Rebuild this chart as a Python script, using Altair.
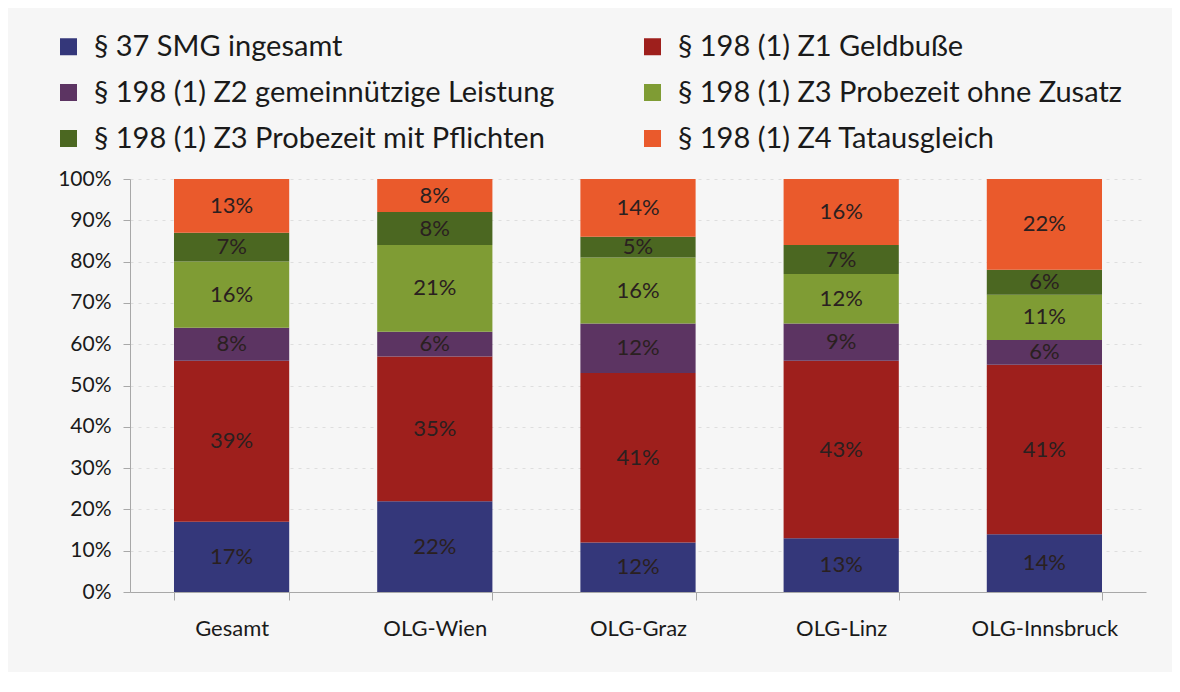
import altair as alt
import pandas as pd

categories = ["Gesamt", "OLG-Wien", "OLG-Graz", "OLG-Linz", "OLG-Innsbruck"]
series = [
    "§ 37 SMG ingesamt",
    "§ 198 (1) Z1 Geldbuße",
    "§ 198 (1) Z2 gemeinnützige Leistung",
    "§ 198 (1) Z3 Probezeit ohne Zusatz",
    "§ 198 (1) Z3 Probezeit mit Pflichten",
    "§ 198 (1) Z4 Tatausgleich",
]
colors = ["#34377a", "#9e1f1c", "#5c3462", "#7f9c34", "#4b6721", "#ea5a2c"]

smg = [17, 22, 12, 13, 14]
z1 = [39, 35, 41, 43, 41]
z2 = [8, 6, 12, 9, 6]
z3_ohne = [16, 21, 16, 12, 11]
z3_mit = [7, 8, 5, 7, 6]
z4 = [13, 8, 14, 16, 22]

values = [smg, z1, z2, z3_ohne, z3_mit, z4]
rows = []
for si, (s, vals) in enumerate(zip(series, values)):
    for c, v in zip(categories, vals):
        rows.append({"cat": c, "series": s, "order": si, "value": v})
df = pd.DataFrame(rows)

FONT = "Lato"

base = alt.Chart(df).transform_stack(
    stack="value", groupby=["cat"], as_=["y0", "y1"],
    sort=[alt.SortField("order", "ascending")], offset="normalize"
).transform_calculate(mid="(datum.y0 + datum.y1) / 2")

xenc = alt.X("cat:N", sort=categories, title=None,
             scale=alt.Scale(paddingInner=0.433, paddingOuter=0.2165),
             axis=alt.Axis(labelAngle=0, labelFont=FONT, labelFontSize=22,
                           labelColor="#1a1a1a", labelPadding=18,
                           tickBand="extent", tickSize=8, tickColor="#a8a8a8",
                           domainColor="#a8a8a8", grid=False))

bars = base.mark_bar().encode(
    x=xenc,
    y=alt.Y("y0:Q", title=None,
            scale=alt.Scale(domain=[0, 1], nice=False),
            axis=alt.Axis(format="%", values=[i / 10 for i in range(11)],
                          labelFont=FONT, labelFontSize=21, labelColor="#1a1a1a",
                          labelPadding=12, tickSize=7, tickColor="#a8a8a8",
                          domainColor="#a8a8a8", gridColor="#dedede",
                          gridDash=[3, 5])),
    y2="y1:Q",
    color=alt.Color("series:N", sort=series,
                    scale=alt.Scale(domain=series, range=colors),
                    legend=alt.Legend(title=None, orient="none", legendX=-76,
                                      legendY=-147, columns=2, columnPadding=83,
                                      direction="horizontal",
                                      rowPadding=16, symbolType="square",
                                      symbolSize=289, symbolStrokeWidth=0,
                                      labelFont=FONT, labelFontSize=29,
                                      labelColor="#1a1a1a", labelOffset=11,
                                      labelLimit=0, padding=0)),
    order=alt.Order("order:Q"),
)

labels = base.mark_text(font=FONT, fontSize=22, color="#2a2020").encode(
    x=alt.X("cat:N", sort=categories),
    y=alt.Y("mid:Q"),
).transform_calculate(label="datum.value + '%'").encode(text="label:N")

chart = (bars + labels).properties(
    width=1016, height=413,
    autosize=alt.AutoSizeParams(type="none"),
    padding={"left": 122, "top": 171, "right": 26, "bottom": 80},
    background="#f6f6f6",
).configure_view(stroke=None)

chart.save("out.html", embed_options={"renderer": "svg", "actions": False})
